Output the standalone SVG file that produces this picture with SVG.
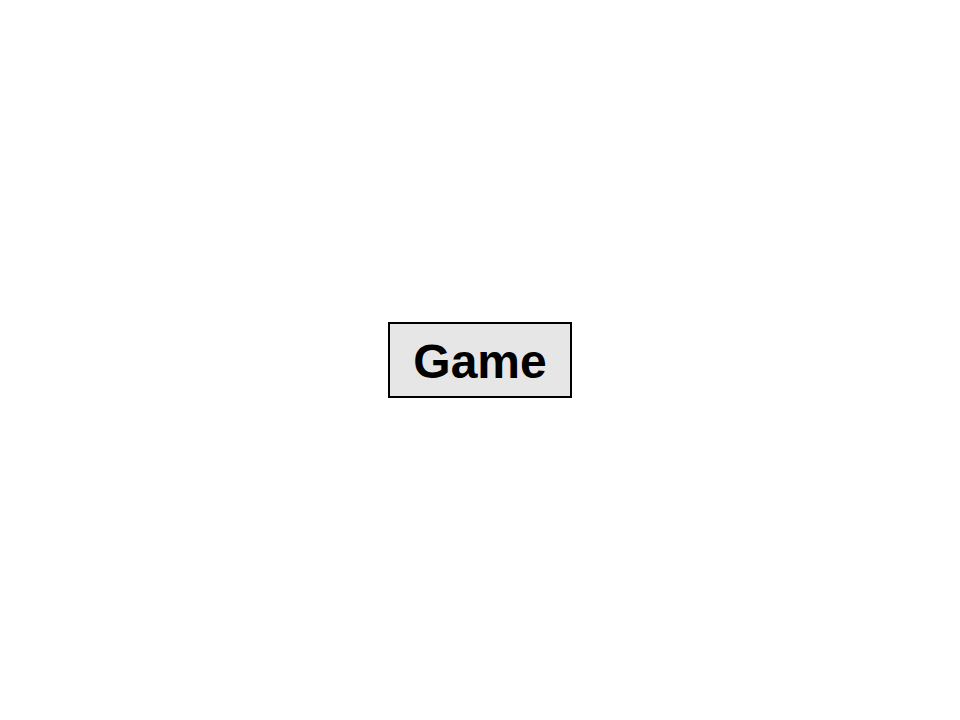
<svg xmlns="http://www.w3.org/2000/svg" width="960" height="720" viewBox="0 0 960 720">
<style>
.node rect{fill:#e6e6e6;stroke:#000;stroke-width:2}
.node text{font-family:"Liberation Sans",Arial,sans-serif;font-weight:bold;font-size:48px;fill:#000;text-anchor:middle}
</style>
<rect width="960" height="720" fill="#fff"/>
<g id="connectors"></g>
<g id="node-game" class="node">
<rect x="389" y="323" width="182" height="74"/>
<text x="480" y="378">Game</text>
</g>
</svg>
